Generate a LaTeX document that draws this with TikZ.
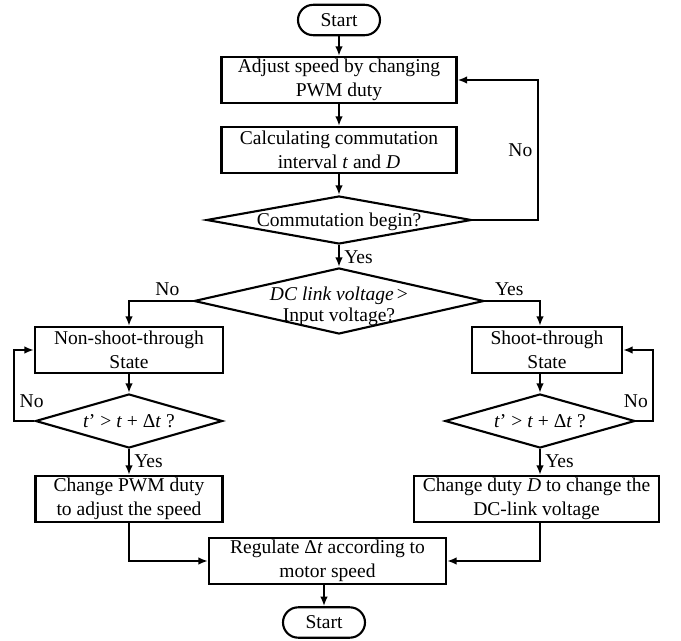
\documentclass[tikz,border=0pt]{standalone}
\usepackage{fontspec}
\setmainfont{Liberation Serif}
\usepackage{tikz}
\usetikzlibrary{shapes,arrows,arrows.meta,positioning}
\tikzstyle{terminal} = [draw, line width=1.5pt, text centered, minimum width=2.05cm, minimum height=0.76cm, rounded corners=0.38cm, inner sep=1pt]
\tikzstyle{process} = [draw, line width=1.5pt, align=center, minimum height=1.15cm, inner sep=1pt]
\tikzstyle{decision} = [draw, diamond, line width=1.5pt, align=center, inner sep=0pt]
\tikzstyle{arrow} = [draw, line width=1.5pt, -{Latex[length=0.24cm,width=0.19cm]}]
\tikzstyle{line} = [draw, line width=1.5pt]
\tikzstyle{answer} = [inner sep=3pt]
\newcommand{\terminal}[2]{node (s#1) [terminal] {#2}}
\newcommand{\process}[3]{node (p#1) [process, #2] {#3}}
\newcommand{\decision}[3]{node (d#1) [decision, #2] {#3}}
\begin{document}
\begin{tikzpicture}[font=\fontsize{13.9pt}{17pt}\selectfont]
\useasboundingbox (-8.475,0.5) rectangle (8.55,-15.525);
\path \terminal{1}{Start};
\path (s1)+(0.0,-1.5) \process{1}{minimum width=5.875cm}{Adjust speed by changing\\PWM duty};
\path [arrow] (s1.south) -- (p1.north) node[] {};
\path (p1)+(0.0,-1.75) \process{2}{minimum width=5.875cm}{Calculating commutation\\interval \textit{t} and \textit{D}};
\path [arrow] (p1.south) -- (p2.north) node[] {};
\path (p2)+(0.0,-1.75) \decision{1}{minimum width=6.625cm, minimum height=1.2cm, shape aspect=5.5, inner ysep=-3pt}{\rule{0pt}{0.45cm}Commutation begin?};
\path [arrow] (p2.south) -- (d1.north) node[] {};
\path [arrow] (d1.east) -- ++(1.625,0.0) |- (p1.east) node[answer, pos=0.25, left] {No};

\path (d1)+(0.0,-2.025) \decision{2}{minimum width=7.25cm, minimum height=1.65cm, shape aspect=4.4, inner ysep=-10pt}{\rule{0pt}{0.62cm}\textit{DC link voltage}\,>\\[-2pt]Input voltage?};
\path [arrow] (d1.south) -- (d2.north) node[answer, pos=0.55, right] {Yes};

% left branch
\path (d2)+(-5.25,-1.225) \process{3}{minimum width=4.7cm}{Non-shoot-through\\State};
\path [arrow] (d2.west) -| (p3.north) node[answer, pos=0.2, above] {No};
\path (p3)+(0.0,-1.775) \decision{3}{minimum width=4.675cm, minimum height=1.35cm, shape aspect=3.5}{\textit{t}’ > \textit{t} + Δ\textit{t} ?};
\path [arrow] (p3.south) -- (d3.north) node[] {};
\path [arrow] (d3.west) -- ++(-0.5,0.0) node[answer, above right, yshift=0.2cm] {No} |- (p3.west);
\path (d3)+(0.0,-1.95) \process{5}{minimum width=4.675cm}{Change PWM duty\\to adjust the speed};
\path [arrow] (d3.south) -- (p5.north) node[answer, pos=0.45, right] {Yes};

% right branch
\path (d2)+(5.2,-1.225) \process{4}{minimum width=3.75cm}{Shoot-through\\State};
\path [arrow] (d2.east) -| ([xshift=-0.175cm]p4.north) node[answer, pos=0.22, above] {Yes};
\path (p4)+(-0.175,-1.775) \decision{4}{minimum width=4.75cm, minimum height=1.35cm, shape aspect=3.5}{\textit{t}’ > \textit{t} + Δ\textit{t} ?};
\path [arrow] ([xshift=-0.175cm]p4.south) -- (d4.north) node[] {};
\path [arrow] (d4.east) -- ++(0.425,0.0) node[answer, above left, yshift=0.2cm] {No} |- (p4.east);
\path (d4)+(-0.0875,-1.95) \process{6}{minimum width=6.125cm}{Change duty \textit{D} to change the\\DC-link voltage};
\path [arrow] (d4.south) -- ([xshift=0.0875cm]p6.north) node[answer, pos=0.45, right] {Yes};

\path (d2)+(-0.2875,-6.5) \process{7}{minimum width=5.925cm}{Regulate Δ\textit{t} according to\\motor speed};
\path [arrow] (p5.south) |- (p7.west) node[] {};
\path [arrow] ([xshift=0.0875cm]p6.south) |- (p7.east) node[] {};
\path (p7)+(-0.0875,-1.5375) \terminal{2}{Start};
\path [arrow] ([xshift=-0.0875cm]p7.south) -- (s2.north) node[] {};
\end{tikzpicture}
\end{document}
